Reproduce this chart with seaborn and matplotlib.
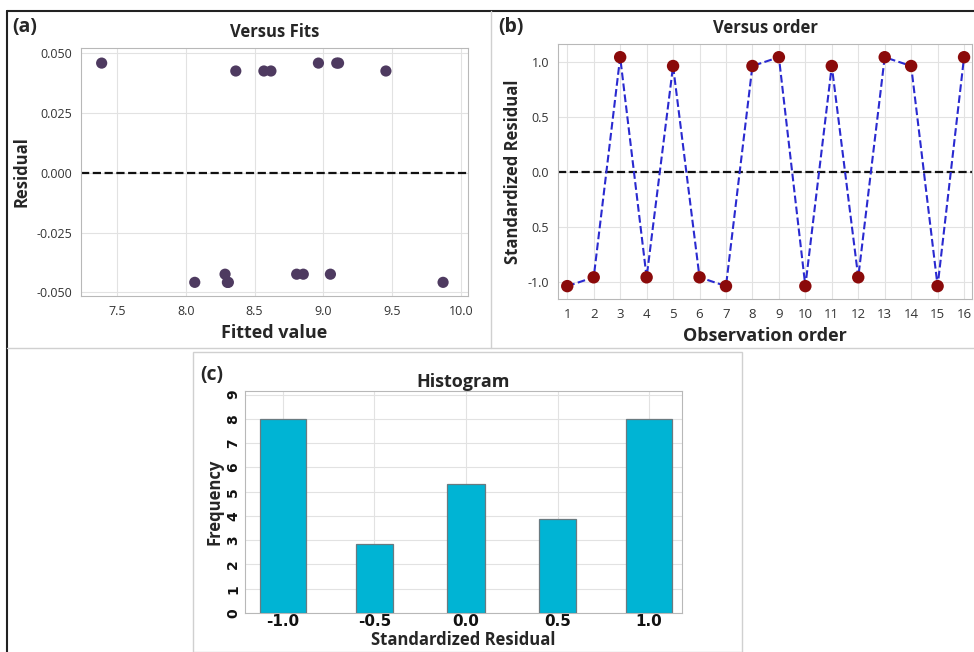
import numpy as np
import pandas as pd
import matplotlib
matplotlib.use("Agg")
import matplotlib.pyplot as plt
import seaborn as sns
from matplotlib.lines import Line2D
from matplotlib.patches import Rectangle

# (a) residuals versus fitted values
fitted = [7.39, 8.964, 9.097, 9.11, 8.364, 8.568, 8.619, 9.454,
          8.286, 8.806, 8.854, 9.051, 8.066, 8.303, 8.31, 9.869]
residual = [0.0457, 0.0457, 0.0457, 0.0457, 0.0424, 0.0424, 0.0424, 0.0424,
            -0.0424, -0.0424, -0.0424, -0.0424, -0.0458, -0.0458, -0.0458, -0.0458]

# (b) standardized residual versus observation order
order = list(range(1, 17))
std_resid = [-1.04, -0.96, 1.04, -0.96, 0.96, -0.96, -1.04, 0.96,
             1.04, -1.04, 0.96, -0.96, 1.04, 0.96, -1.04, 1.04]
b_yticks = [1.0, 0.5, 0.0, -0.5, -1.0]
b_yticklabels = ["1.0", "0.5", "0.0", "0.5", "-1.0"]

# (c) histogram
bins = ["-1.0", "-0.5", "0.0", "0.5", "1.0"]
freq = [8, 2.86, 5.33, 3.88, 8]

sns.set_style("whitegrid", {"grid.color": "#e2e2e2", "axes.edgecolor": "#b8b8b8"})
plt.rcParams["font.family"] = ["Open Sans", "DejaVu Sans"]

W, H = 974, 652
fig = plt.figure(figsize=(W / 100, H / 100), dpi=100)


def px_axes(left, top, right, bottom):
    return fig.add_axes([left / W, 1 - bottom / H, (right - left) / W, (bottom - top) / H])


def fig_line(x0, y0, x1, y1, color, lw):
    fig.add_artist(Line2D([x0 / W, x1 / W], [1 - y0 / H, 1 - y1 / H],
                          transform=fig.transFigure, color=color, lw=lw))


# panel frames
fig_line(7, 11, 974, 11, "#222222", 1.5)
fig_line(7, 11, 7, 652, "#222222", 1.5)
fig_line(491, 11, 491, 348, "#d0d0d0", 1.0)
fig_line(7, 348, 974, 348, "#d0d0d0", 1.0)
fig.add_artist(Rectangle((193 / W, 0), (742 - 193) / W, 1 - 352 / H,
                         transform=fig.transFigure, fill=False, ec="#d0d0d0", lw=1.0))

tick_kw = dict(labelsize=9, colors="#333333", length=3)

# ---- (a) ----
ax1 = px_axes(81, 48, 468, 296)
df_a = pd.DataFrame({"Fitted value": fitted, "Residual": residual})
sns.scatterplot(data=df_a, x="Fitted value", y="Residual", ax=ax1,
                color="#4e3a60", s=65, edgecolor="none", zorder=3)
ax1.axhline(0, color="#111111", linestyle="--", linewidth=1.6, zorder=2)
ax1.set_xlim(7.24, 10.05)
ax1.set_ylim(-0.0515, 0.052)
ax1.set_xticks([7.5, 8.0, 8.5, 9.0, 9.5, 10.0])
ax1.set_yticks([0.05, 0.025, 0.0, -0.025, -0.05])
ax1.set_yticklabels(["0.050", "0.025", "0.000", "-0.025", "-0.050"])
ax1.tick_params(**tick_kw)
ax1.set_xlabel("Fitted value", fontsize=13, fontweight="bold", labelpad=4)
ax1.set_ylabel("Residual", fontsize=12, fontweight="bold")
ax1.set_title("Versus Fits", fontsize=12, fontweight="bold", pad=8)
fig.text(12 / W, 1 - 32 / H, "(a)", fontsize=14, fontweight="bold")

# ---- (b) ----
ax2 = px_axes(558, 44, 972, 299)
df_b = pd.DataFrame({"Observation order": order, "Standardized Residual": std_resid})
sns.lineplot(data=df_b, x="Observation order", y="Standardized Residual", ax=ax2,
             color="#2a2ad0", linestyle="--", linewidth=1.5, zorder=2)
sns.scatterplot(data=df_b, x="Observation order", y="Standardized Residual", ax=ax2,
                color="#8b0a0a", s=80, edgecolor="none", zorder=3)
ax2.axhline(0, color="#111111", linestyle="--", linewidth=1.6, zorder=1)
ax2.set_xlim(0.65, 16.3)
ax2.set_ylim(-1.157, 1.16)
ax2.set_xticks(order)
ax2.set_yticks(b_yticks)
ax2.set_yticklabels(b_yticklabels)
ax2.tick_params(**tick_kw)
ax2.tick_params(axis="x", labelsize=9.5)
ax2.set_xlabel("Observation order", fontsize=13, fontweight="bold", labelpad=4)
ax2.set_ylabel("Standardized Residual", fontsize=12, fontweight="bold")
ax2.set_title("Versus order", fontsize=12, fontweight="bold", pad=8)
fig.text(498 / W, 1 - 32 / H, "(b)", fontsize=14, fontweight="bold")

# ---- (c) ----
ax3 = px_axes(245, 391, 682, 613)
df_c = pd.DataFrame({"Standardized Residual": bins, "Frequency": freq})
sns.barplot(data=df_c, x="Standardized Residual", y="Frequency", ax=ax3,
            order=bins, color="#00b4d4", saturation=1, width=0.41,
            edgecolor="#6a7a80", linewidth=0.9, zorder=3)
# outer bars are drawn a bit wider in the original
for i in (0, len(bins) - 1):
    p = ax3.patches[i]
    c = p.get_x() + p.get_width() / 2
    p.set_width(0.5)
    p.set_x(c - 0.25)
ax3.grid(True, axis="both")
ax3.set_axisbelow(True)
ax3.set_xlim(-0.415, 4.36)
ax3.set_ylim(0, 9.15)
ax3.set_yticks(range(0, 10))
ax3.tick_params(axis="y", labelsize=10, colors="#111111", length=0, labelrotation=90)
ax3.tick_params(axis="x", labelsize=11, colors="#111111", length=0, pad=1)
for t in ax3.get_xticklabels() + ax3.get_yticklabels():
    t.set_family("DejaVu Sans")
    t.set_fontweight("bold")
for t in ax3.get_yticklabels():
    t.set_va("center")
ax3.set_xlabel("Standardized Residual", fontsize=12, fontweight="bold", labelpad=1)
ax3.set_ylabel("Frequency", fontsize=12, fontweight="bold", labelpad=2)
ax3.set_title("Histogram", fontsize=13, fontweight="bold", pad=3)
fig.text(200 / W, 1 - 380 / H, "(c)", fontsize=14, fontweight="bold")

fig.savefig("out.png", dpi=100)
